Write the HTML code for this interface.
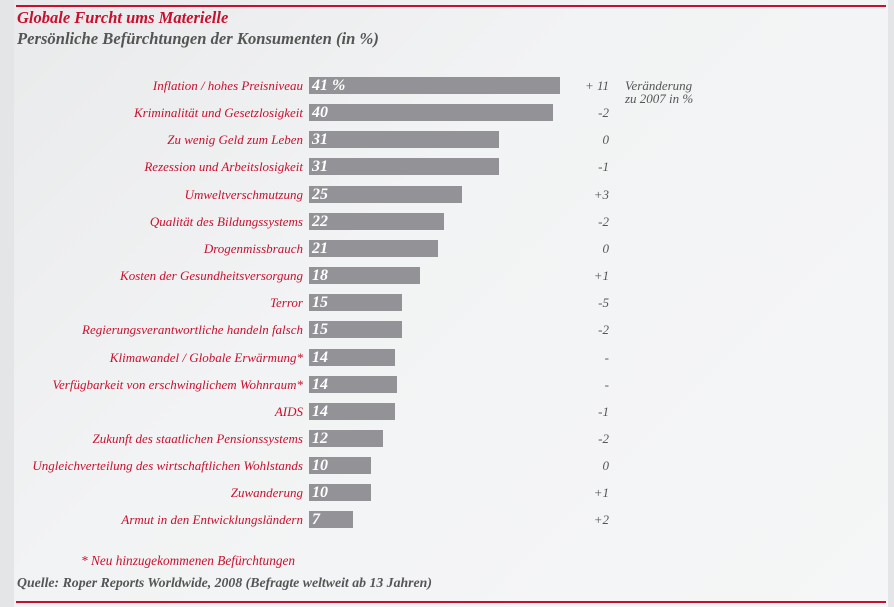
<!DOCTYPE html><html><head><meta charset="utf-8"><style>
body{margin:0;width:894px;height:607px;overflow:hidden;background:#e4e5e7;font-family:"Liberation Serif",serif;font-style:italic;position:relative}
.bg{position:absolute;left:14px;top:0;width:874px;height:607px;background:linear-gradient(135deg,#e9eaeb 0%,#f2f3f4 40%,#f5f6f7 100%)}
.rl{position:absolute;left:16px;width:870px;height:2px;background:#c8102e}
.t{position:absolute;white-space:nowrap}
.lab{position:absolute;right:591px;color:#c8102e;font-size:13px;line-height:17px;white-space:nowrap}
.bar{position:absolute;left:309px;height:17px;background:#939397;color:#fff;font-weight:bold;font-size:16px;line-height:17px;padding-left:3px;box-sizing:border-box}
.ch{position:absolute;right:285px;color:#555;font-size:13px;line-height:17px}
</style></head><body>
<div class="bg"></div>
<div class="rl" style="top:5px"></div>
<div class="rl" style="top:601px"></div>
<div class="t" style="left:17px;top:8px;color:#c8102e;font-weight:bold;font-size:16.5px">Globale Furcht ums Materielle</div>
<div class="t" style="left:17px;top:29px;color:#555;font-weight:bold;font-size:16.6px">Persönliche Befürchtungen der Konsumenten (in %)</div>
<div class="t" style="left:625px;top:79px;color:#555;font-size:13px;line-height:13px">Veränderung<br>zu 2007 in %</div>
<div class="t" style="left:81px;top:553px;color:#c8102e;font-size:13.3px">* Neu hinzugekommenen Befürchtungen</div>
<div class="t" style="left:17px;top:575px;color:#555;font-weight:bold;font-size:13.8px">Quelle: Roper Reports Worldwide, 2008 (Befragte weltweit ab 13 Jahren)</div>
<div id="c"></div>
<script>
var d=[["Inflation / hohes Preisniveau","41 %",251,"+ 11"],["Kriminalität und Gesetzlosigkeit","40",244,"-2"],["Zu wenig Geld zum Leben","31",190,"0"],["Rezession und Arbeitslosigkeit","31",190,"-1"],["Umweltverschmutzung","25",153,"+3"],["Qualität des Bildungssystems","22",135,"-2"],["Drogenmissbrauch","21",129,"0"],["Kosten der Gesundheitsversorgung","18",111,"+1"],["Terror","15",93,"-5"],["Regierungsverantwortliche handeln falsch","15",93,"-2"],["Klimawandel / Globale Erwärmung*","14",86,"-"],["Verfügbarkeit von erschwinglichem Wohnraum*","14",88,"-"],["AIDS","14",86,"-1"],["Zukunft des staatlichen Pensionssystems","12",74,"-2"],["Ungleichverteilung des wirtschaftlichen Wohlstands","10",62,"0"],["Zuwanderung","10",62,"+1"],["Armut in den Entwicklungsländern","7",44,"+2"]];
var h="";d.forEach(function(r,i){var y=Math.round(77+i*27.15);
h+='<div class="lab" style="top:'+y+'px">'+r[0]+'</div><div class="bar" style="top:'+y+'px;width:'+r[2]+'px">'+r[1]+'</div><div class="ch" style="top:'+y+'px">'+r[3]+'</div>';});
document.getElementById("c").innerHTML=h;
</script>
</body></html>
